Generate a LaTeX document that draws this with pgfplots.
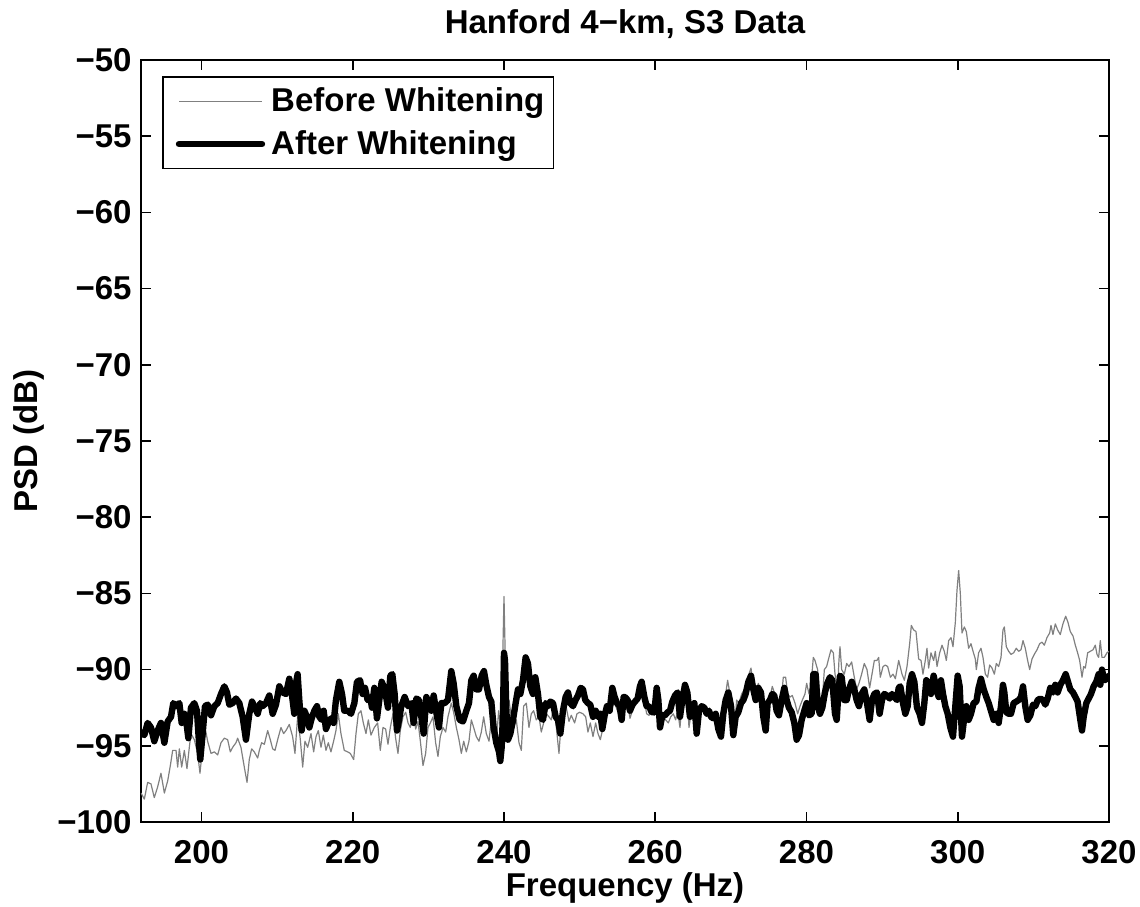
\documentclass[border=0pt]{standalone}
\usepackage{fontspec}
\setmainfont{Liberation Sans}
\usepackage{pgfplots}
\usepackage{pgfplotstable}
\pgfplotsset{compat=1.18}

\pgfplotstableread{
f v
192.00 -98.1
192.44 -98.5
192.88 -97.4
193.32 -97.5
193.76 -98.4
194.20 -97.7
194.64 -96.8
195.09 -98.1
195.53 -97.3
195.88 -96.3
196.19 -95.3
196.63 -95.3
196.85 -96.4
197.07 -95.2
197.38 -96.4
197.73 -95.3
198.08 -96.5
198.39 -95.1
198.61 -94.2
199.05 -94.6
199.49 -95.5
199.80 -96.8
200.15 -95.1
200.59 -94.1
200.81 -94.7
201.26 -95.5
201.70 -95.4
202.14 -95.6
202.58 -94.8
203.02 -94.5
203.46 -94.6
203.81 -95.4
204.12 -95.1
204.56 -94.8
204.78 -94.5
205.22 -95.1
205.66 -96.4
206.02 -97.4
206.32 -95.9
206.63 -95.2
206.98 -95.4
207.43 -95.8
207.65 -95.3
207.95 -94.8
208.31 -94.9
208.75 -94.0
209.10 -94.6
209.41 -95.2
209.72 -95.3
210.07 -94.6
210.51 -93.8
210.86 -94.2
211.17 -94.0
211.61 -93.6
212.05 -94.4
212.36 -95.5
212.71 -93.1
213.07 -94.6
213.38 -96.4
213.68 -94.7
214.04 -95.1
214.48 -94.2
214.83 -95.4
215.14 -94.4
215.45 -94.0
215.80 -95.1
216.11 -94.3
216.46 -95.3
216.77 -94.8
217.12 -95.4
217.47 -94.7
217.78 -94.0
218.09 -92.9
218.44 -94.2
218.88 -95.3
219.33 -95.4
219.68 -95.5
220.12 -95.9
220.43 -94.2
220.74 -92.9
221.09 -92.7
221.40 -93.5
221.75 -94.2
222.06 -93.3
222.41 -94.3
222.85 -93.8
223.29 -93.5
223.64 -95.3
224.00 -93.8
224.35 -93.9
224.66 -94.9
224.97 -93.8
225.32 -92.9
225.67 -94.5
225.98 -95.5
226.29 -94.0
226.64 -93.1
227.00 -92.8
227.31 -93.5
227.61 -93.8
227.97 -92.9
228.32 -93.9
228.63 -93.4
228.94 -94.7
229.29 -96.3
229.64 -95.5
229.95 -93.8
230.26 -93.5
230.61 -93.1
230.96 -94.8
231.27 -95.7
231.58 -94.4
231.93 -93.8
232.29 -94.1
232.59 -93.1
233.03 -92.2
233.34 -92.8
233.70 -93.8
234.05 -94.6
234.36 -95.5
234.67 -94.7
235.02 -95.4
235.37 -94.7
235.68 -93.3
235.99 -93.8
236.34 -94.4
236.69 -94.7
237.00 -94.1
237.31 -93.1
237.66 -94.2
238.02 -94.7
238.32 -93.3
238.63 -93.9
238.98 -94.8
239.29 -92.7
239.65 -94.2
239.87 -88.3
240.00 -85.2
240.13 -88.3
240.31 -93.1
240.66 -92.0
240.97 -93.1
241.28 -93.8
241.63 -93.3
241.98 -94.8
242.29 -95.3
242.60 -92.4
242.95 -92.2
243.30 -93.8
243.61 -92.9
243.92 -92.7
244.27 -93.3
244.63 -93.1
244.93 -94.1
245.24 -93.5
245.60 -92.9
245.95 -93.1
246.26 -93.3
246.57 -92.4
246.92 -93.8
247.27 -95.5
247.58 -93.3
247.89 -92.9
248.24 -92.5
248.59 -93.4
248.90 -93.0
249.34 -93.5
249.65 -92.9
250.00 -92.8
250.44 -92.9
250.80 -93.1
251.10 -94.1
251.41 -93.5
251.77 -94.4
252.12 -93.5
252.43 -94.2
252.74 -94.6
253.09 -93.8
253.44 -93.1
253.79 -92.4
254.19 -92.5
254.63 -92.2
255.07 -92.8
255.51 -92.4
256.00 -91.9
256.35 -92.2
256.66 -93.2
256.97 -92.7
257.32 -92.4
257.67 -92.0
257.98 -91.3
258.29 -91.0
258.56 -92.0
258.86 -92.9
259.17 -93.0
259.53 -92.8
259.88 -93.0
260.19 -91.6
260.50 -92.7
260.76 -93.3
261.07 -93.1
261.38 -93.3
261.73 -93.5
262.04 -93.1
262.39 -92.9
262.70 -93.3
262.96 -92.7
263.27 -93.8
263.58 -92.0
263.93 -91.1
264.24 -91.8
264.46 -93.8
264.73 -92.9
265.03 -92.2
265.34 -94.4
265.70 -92.7
266.05 -92.4
266.36 -92.5
266.67 -92.9
267.02 -92.7
267.37 -93.1
267.68 -93.3
267.99 -93.1
268.34 -94.0
268.69 -94.2
269.00 -92.7
269.31 -91.6
269.57 -90.7
269.88 -91.6
270.19 -92.4
270.46 -94.2
270.76 -92.0
271.07 -92.2
271.43 -91.6
271.78 -91.3
272.09 -90.9
272.39 -90.3
272.66 -89.9
272.97 -91.1
273.28 -91.8
273.63 -90.9
273.98 -91.5
274.29 -92.9
274.51 -93.8
274.86 -92.0
275.17 -91.8
275.48 -91.1
275.74 -91.5
276.05 -92.4
276.36 -92.7
276.71 -91.8
276.93 -90.5
277.24 -90.5
277.51 -91.6
277.82 -91.8
278.12 -91.7
278.48 -92.2
278.83 -92.9
279.14 -92.4
279.45 -92.0
279.80 -91.6
280.02 -90.9
280.33 -91.6
280.59 -91.1
280.90 -89.2
281.12 -89.4
281.47 -90.0
281.78 -91.8
282.09 -92.0
282.36 -90.0
282.66 -89.8
282.97 -89.2
283.24 -88.7
283.55 -88.9
283.77 -90.3
284.12 -91.3
284.29 -89.4
284.43 -88.5
284.65 -90.0
285.00 -90.3
285.31 -89.6
285.62 -89.8
285.97 -89.5
286.32 -90.5
286.63 -91.3
286.94 -90.9
287.29 -90.3
287.64 -89.6
288.00 -90.0
288.35 -91.2
288.66 -90.3
288.97 -89.4
289.32 -89.4
289.54 -89.2
289.76 -90.5
290.12 -89.8
290.42 -89.7
290.73 -89.8
291.09 -90.5
291.44 -90.3
291.75 -90.6
292.19 -89.4
292.63 -90.3
292.94 -90.7
293.29 -89.8
293.64 -88.3
293.86 -87.1
294.17 -87.4
294.48 -87.5
294.83 -89.3
295.14 -89.4
295.40 -90.3
295.71 -89.4
295.93 -88.6
296.15 -89.9
296.46 -88.9
296.81 -89.4
297.03 -88.8
297.26 -89.8
297.61 -88.9
297.92 -88.4
298.22 -88.8
298.49 -89.4
298.80 -88.1
299.11 -87.9
299.37 -88.5
299.68 -86.9
299.90 -84.8
300.12 -83.5
300.34 -85.0
300.56 -87.6
300.87 -87.2
301.13 -87.5
301.44 -88.6
301.75 -88.3
302.02 -88.8
302.32 -89.3
302.46 -90.0
302.76 -88.9
303.07 -88.6
303.34 -89.2
303.65 -90.3
303.95 -90.5
304.22 -89.7
304.53 -89.9
304.84 -90.3
305.10 -89.6
305.41 -89.8
305.72 -89.2
305.98 -87.4
306.16 -87.2
306.42 -88.5
306.73 -88.8
307.04 -89.0
307.39 -88.9
307.74 -88.6
308.05 -88.8
308.36 -88.7
308.63 -88.1
308.93 -88.6
309.24 -89.4
309.51 -90.0
309.82 -89.3
310.12 -89.0
310.48 -88.7
310.83 -88.3
311.14 -88.2
311.45 -88.4
311.80 -87.9
312.15 -87.6
312.33 -87.1
312.59 -87.7
312.90 -87.0
313.21 -87.4
313.56 -87.7
313.91 -87.0
314.27 -86.5
314.58 -86.9
314.88 -87.5
315.24 -87.8
315.55 -88.4
315.85 -88.9
316.12 -89.4
316.43 -90.5
316.65 -89.8
316.87 -89.9
317.18 -88.9
317.53 -88.8
317.88 -88.7
318.19 -88.4
318.41 -89.0
318.63 -89.2
318.85 -88.1
319.07 -89.2
319.38 -89.2
319.73 -88.9
320.00 -88.8
}\beforedata

\pgfplotstableread{
f v
192.00 -94.1
192.44 -94.3
192.88 -93.5
193.32 -93.8
193.76 -94.7
194.20 -94.0
194.64 -93.5
195.09 -94.8
195.53 -93.4
195.97 -93.1
196.27 -92.2
196.63 -92.4
197.07 -92.2
197.38 -93.5
197.73 -92.9
198.04 -93.6
198.26 -94.5
198.61 -92.5
199.05 -92.2
199.40 -92.7
199.71 -95.1
199.84 -95.9
200.15 -94.2
200.46 -92.4
200.81 -92.3
201.26 -93.0
201.70 -92.4
202.14 -92.2
202.58 -91.6
203.02 -91.1
203.37 -91.5
203.68 -92.3
204.12 -92.2
204.56 -91.9
205.00 -92.2
205.44 -93.1
205.88 -94.6
206.32 -92.9
206.68 -92.1
206.98 -92.4
207.43 -92.9
207.78 -92.2
208.09 -92.4
208.53 -92.2
208.97 -91.7
209.41 -92.9
209.85 -92.3
210.29 -91.1
210.73 -91.5
211.17 -91.6
211.61 -90.6
211.92 -91.5
212.27 -92.9
212.49 -90.9
212.71 -90.3
212.93 -92.0
213.24 -94.0
213.60 -92.7
213.95 -93.1
214.26 -93.8
214.57 -93.2
214.92 -92.7
215.27 -92.4
215.58 -93.1
215.89 -93.3
216.15 -92.7
216.46 -93.9
216.77 -93.5
217.12 -93.2
217.47 -93.5
217.78 -92.0
218.22 -90.8
218.58 -91.6
218.88 -92.7
219.33 -92.7
219.77 -92.9
220.21 -92.2
220.56 -90.8
220.96 -90.7
221.31 -91.6
221.62 -91.2
221.97 -92.0
222.32 -91.8
222.54 -92.5
222.85 -91.2
223.20 -93.2
223.51 -92.0
223.82 -90.8
224.00 -91.0
224.35 -91.6
224.66 -92.5
224.97 -90.4
225.23 -90.3
225.54 -91.6
225.85 -94.0
226.12 -93.3
226.42 -92.4
226.86 -91.8
227.31 -92.4
227.75 -92.2
228.05 -93.5
228.41 -91.9
228.76 -92.0
229.07 -93.1
229.38 -94.2
229.73 -91.8
230.08 -92.2
230.39 -92.7
230.70 -91.7
231.05 -92.8
231.40 -93.8
231.71 -92.2
232.15 -92.2
232.59 -92.0
233.03 -90.1
233.34 -90.9
233.70 -92.4
234.14 -93.3
234.58 -93.4
235.02 -92.7
235.37 -92.2
235.68 -90.7
235.99 -90.4
236.34 -91.3
236.69 -91.3
237.05 -90.4
237.35 -90.1
237.66 -91.0
238.02 -91.8
238.32 -92.1
238.63 -93.8
238.98 -94.8
239.34 -95.4
239.51 -96.0
239.69 -95.1
239.87 -92.9
240.00 -88.9
240.13 -89.4
240.31 -92.7
240.53 -94.6
240.84 -94.2
241.19 -93.3
241.54 -92.2
241.85 -91.3
242.16 -91.6
242.51 -90.7
242.86 -89.2
243.17 -89.6
243.48 -91.1
243.83 -91.6
244.14 -90.5
244.49 -91.6
244.80 -93.1
245.15 -93.3
245.51 -92.2
245.82 -92.4
246.12 -92.1
246.48 -92.2
246.83 -93.1
247.14 -93.3
247.45 -94.2
247.80 -92.7
248.15 -91.8
248.46 -91.5
248.77 -92.2
249.12 -92.4
249.47 -92.0
249.78 -91.7
250.14 -91.2
250.44 -91.3
250.75 -92.0
251.10 -92.2
251.41 -92.3
251.77 -93.1
252.12 -92.7
252.43 -93.1
252.74 -92.9
253.00 -93.9
253.31 -93.0
253.62 -92.4
253.97 -92.7
254.32 -91.2
254.63 -91.8
254.94 -92.2
255.29 -92.4
255.56 -93.3
255.82 -91.8
256.00 -91.8
256.35 -92.0
256.66 -92.7
256.97 -92.3
257.32 -92.1
257.67 -91.9
257.98 -91.1
258.20 -90.8
258.56 -91.8
258.86 -92.4
259.17 -92.4
259.53 -92.8
259.88 -92.8
260.19 -91.2
260.41 -92.0
260.63 -93.8
260.94 -93.0
261.29 -93.0
261.64 -92.8
261.95 -92.7
262.26 -92.1
262.61 -91.7
262.96 -91.5
263.27 -93.1
263.58 -92.0
263.93 -91.0
264.24 -91.5
264.59 -93.1
264.90 -92.4
265.17 -92.2
265.48 -94.2
265.78 -92.7
266.14 -92.4
266.49 -92.5
266.80 -92.9
267.11 -92.7
267.37 -93.1
267.68 -93.2
267.99 -92.9
268.34 -93.9
268.69 -94.4
269.00 -92.9
269.31 -92.0
269.66 -91.5
270.02 -92.4
270.32 -94.3
270.63 -93.1
270.98 -92.8
271.34 -92.2
271.65 -92.0
271.95 -91.6
272.31 -90.8
272.66 -90.4
272.97 -91.3
273.28 -92.0
273.63 -91.2
273.98 -91.5
274.29 -93.1
274.60 -94.0
274.86 -92.2
275.17 -92.0
275.48 -91.6
275.74 -91.7
276.05 -92.7
276.36 -93.0
276.71 -92.0
277.07 -91.2
277.38 -92.0
277.68 -92.5
278.04 -92.8
278.39 -93.5
278.70 -94.6
279.01 -94.3
279.36 -93.3
279.71 -92.7
280.02 -92.2
280.33 -93.0
280.68 -92.9
280.90 -90.3
281.21 -90.3
281.47 -92.4
281.78 -92.9
282.09 -92.5
282.44 -91.5
282.75 -90.9
283.10 -90.5
283.41 -90.7
283.77 -92.9
283.99 -93.3
284.21 -91.6
284.43 -90.4
284.65 -90.5
285.00 -92.0
285.31 -92.0
285.62 -91.3
285.97 -90.8
286.32 -91.3
286.63 -92.0
286.94 -92.4
287.29 -91.6
287.64 -91.3
288.00 -92.2
288.35 -93.3
288.66 -92.0
288.97 -91.6
289.32 -91.5
289.67 -92.9
289.98 -92.0
290.29 -91.6
290.64 -91.7
291.00 -91.9
291.31 -91.6
291.61 -91.8
291.97 -92.0
292.19 -91.2
292.41 -91.1
292.76 -92.2
293.07 -92.9
293.38 -92.4
293.64 -90.9
293.95 -90.3
294.26 -90.8
294.61 -92.5
294.96 -92.9
295.27 -93.5
295.58 -92.2
295.84 -90.7
296.15 -90.9
296.46 -91.6
296.81 -90.4
297.17 -91.3
297.48 -91.8
297.78 -90.7
298.05 -91.6
298.36 -92.4
298.67 -92.9
299.02 -93.8
299.37 -94.4
299.68 -92.4
299.99 -90.4
300.25 -91.1
300.56 -94.4
300.87 -93.1
301.13 -92.4
301.44 -93.3
301.75 -92.9
302.10 -92.2
302.46 -92.1
302.76 -91.2
303.07 -90.6
303.43 -91.3
303.78 -91.8
304.09 -92.2
304.39 -92.7
304.75 -93.3
305.10 -92.9
305.41 -93.5
305.72 -92.4
305.98 -91.0
306.16 -91.5
306.42 -92.8
306.73 -92.9
307.04 -92.9
307.39 -92.2
307.74 -92.1
308.05 -92.0
308.36 -91.8
308.63 -91.1
308.93 -92.4
309.24 -93.3
309.60 -93.0
309.95 -92.3
310.26 -92.4
310.57 -92.0
310.92 -91.9
311.27 -92.0
311.58 -92.3
311.89 -91.9
312.24 -91.2
312.59 -91.5
312.90 -91.0
313.21 -91.5
313.56 -91.0
313.91 -90.7
314.27 -90.3
314.58 -90.8
314.88 -91.3
315.24 -91.5
315.55 -91.8
315.85 -92.1
316.21 -93.3
316.43 -94.0
316.65 -93.1
317.00 -92.2
317.31 -91.9
317.62 -91.6
317.97 -91.1
318.32 -90.8
318.63 -90.3
318.85 -91.0
319.07 -90.0
319.38 -90.7
319.73 -90.6
320.00 -90.4
}\afterdata

\newcommand{\lblfont}{\fontsize{16.5}{19.8}\selectfont\bfseries}

\begin{document}
\begin{tikzpicture}
\begin{axis}[
  name=ax,
  scale only axis,
  width=484pt, height=381pt,
  xmin=192, xmax=320, ymin=-100, ymax=-50,
  xtick={200,220,240,260,280,300,320},
  xticklabels={200,220,240,260,280,300,320},
  ytick={-100,-95,-90,-85,-80,-75,-70,-65,-60,-55,-50},
  yticklabels={−100,−95,−90,−85,−80,−75,−70,−65,−60,−55,−50},
  tick align=inside,
  major tick length=5pt,
  axis line style={line width=0.8pt},
  every tick/.style={black, line width=0.8pt},
  tick label style={font=\lblfont},
  xticklabel style={anchor=north, inner sep=0pt, yshift=-9pt},
  yticklabel style={anchor=east, inner sep=0pt, xshift=-4.5pt},
  title={Hanford 4−km, S3 Data},
  title style={at={(axis description cs:0.5,1.0184)}, anchor=base, font=\lblfont},
  xlabel={Frequency (Hz)},
  xlabel style={at={(axis description cs:0.5,-0.0972)}, anchor=base, font=\lblfont},
  ylabel={PSD (dB)},
  ylabel style={at={(axis description cs:-0.1064,0.5)}, anchor=base, font=\lblfont},
  legend style={at={(axis description cs:0.0217,0.979)}, anchor=north west,
    draw=black, line width=0.8pt, fill=white, font=\lblfont,
    inner xsep=1.5pt, inner ysep=2.5pt, row sep=2pt,
    nodes={inner sep=3pt}},
  legend cell align=left,
  legend image code/.code={\path (0pt,0pt); \draw[#1] (5pt,0pt) -- (46.5pt,0pt);},
]
\addplot[color=black!50, line width=0.6pt, line join=round] table[x=f, y=v] {\beforedata};
\addlegendentry{Before Whitening}
\addplot[color=black, line width=3.2pt, line join=round, line cap=round] table[x=f, y=v] {\afterdata};
\addlegendentry{After Whitening}
\end{axis}
\pgfresetboundingbox
\path[use as bounding box] ([xshift=-70.5pt,yshift=-42.5pt]ax.south west) rectangle ([xshift=15.5pt,yshift=30pt]ax.north east);
\end{tikzpicture}
\end{document}
